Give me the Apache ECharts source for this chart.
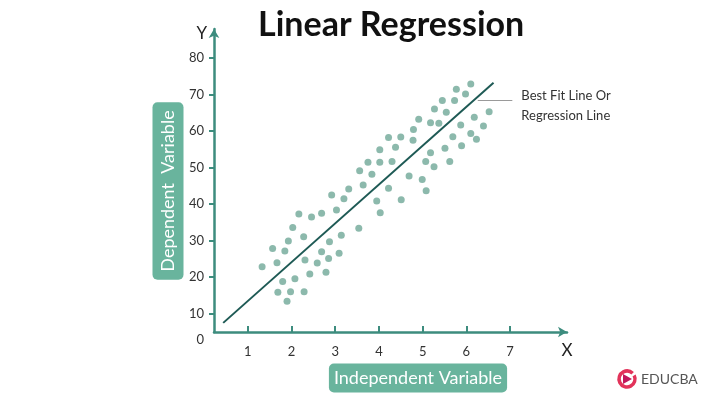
<!DOCTYPE html>
<html>
<head>
<meta charset="utf-8">
<script src="https://cdn.jsdelivr.net/npm/echarts@6/dist/echarts.min.js"></script>
<style>
html, body { margin: 0; background: #fff; }
#main { width: 720px; height: 404px; }
</style>
</head>
<body>
<div id="main"></div>
<script>
// scatter points
var pointX = [1.33, 1.57, 1.67, 1.80, 1.69, 1.90, 1.98, 2.08, 2.29, 1.85,
              1.93, 2.03, 2.17, 2.28, 2.31, 2.42, 2.46, 2.59, 2.69, 2.69,
              2.79, 2.85, 2.87, 2.92, 3.03, 3.09, 3.14, 3.20, 3.31, 3.54,
              4.03, 3.95, 4.51, 3.64, 4.22, 3.56, 3.84, 3.75, 4.02, 4.30,
              4.02, 4.38, 4.22, 4.50, 4.78, 4.79, 4.91, 5.18, 5.37, 5.27,
              5.54, 5.45, 5.73, 5.77, 5.98, 6.10, 4.69, 4.99, 5.08, 5.07,
              5.26, 5.18, 5.51, 5.62, 5.69, 5.89, 5.87, 6.10, 6.23, 6.18,
              6.39, 6.52];
var pointY = [22.9, 27.9, 24.0, 18.8, 15.9, 13.4, 16.0, 19.6, 16.0, 27.2,
              29.9, 33.6, 37.3, 31.1, 24.7, 20.9, 36.5, 23.9, 27.0, 37.5,
              21.4, 25.1, 29.7, 42.5, 38.4, 26.6, 31.5, 41.5, 44.2, 33.4,
              37.7, 40.9, 41.2, 45.3, 44.4, 49.2, 48.2, 51.5, 51.5, 51.7,
              54.9, 55.6, 58.3, 58.4, 57.5, 60.5, 63.3, 62.3, 62.2, 66.1,
              65.2, 68.4, 68.4, 71.5, 70.2, 72.9, 47.7, 46.8, 43.7, 51.7,
              50.3, 54.1, 55.3, 51.7, 58.5, 56.0, 61.7, 59.4, 57.8, 63.8,
              61.4, 65.3];

// best fit line end points
var fitX = [0.44, 6.62];
var fitY = [7.5, 73.3];

// pointer from the line to its caption
var pointerX = [6.26, 7.05];
var pointerY = [68.6, 68.6];

var xTicks = [1, 2, 3, 4, 5, 6, 7];
var yTicks = [10, 20, 30, 40, 50, 60, 70, 80];
var yOrigin = 5; // the axes cross here; the picture prints it as 0

var teal = '#3d8c7e';
var boxColor = '#69b49d';
var labelFont = 'Lato';

var chartDom = document.getElementById('main');
var myChart = echarts.init(chartDom);

var points = pointX.map(function (x, i) { return [x, pointY[i]]; });
var fitLine = fitX.map(function (x, i) { return [x, fitY[i]]; });

var option = {
    backgroundColor: '#fff',
    animation: false,
    title: {
        text: 'Linear Regression',
        left: 253,
        top: 3,
        textStyle: {
            fontFamily: labelFont,
            fontWeight: 'bold',
            fontSize: 34,
            color: '#111'
        }
    },
    grid: {
        left: 214,
        right: 153,
        top: 29,
        bottom: 72
    },
    xAxis: {
        type: 'value',
        min: 0.23,
        max: 8.3,
        name: 'X',
        nameGap: 0,
        nameTextStyle: {
            color: '#222',
            fontSize: 17,
            fontFamily: labelFont,
            align: 'center',
            verticalAlign: 'top',
            padding: [10, 0, 0, 0]
        },
        splitLine: { show: false },
        axisLine: {
            onZero: false,
            symbol: ['none', 'arrow'],
            symbolSize: [8, 9],
            lineStyle: { color: teal, width: 2.5 }
        },
        axisTick: {
            inside: true,
            length: 6,
            customValues: xTicks,
            lineStyle: { color: teal, width: 2 }
        },
        axisLabel: {
            customValues: xTicks,
            margin: 13,
            color: '#333',
            fontSize: 13,
            fontFamily: labelFont
        }
    },
    yAxis: {
        type: 'value',
        min: yOrigin,
        max: 88,
        name: 'Y',
        nameGap: -5,
        nameTextStyle: {
            color: '#222',
            fontSize: 17,
            fontFamily: labelFont,
            align: 'right',
            verticalAlign: 'middle',
            padding: [0, 7, 0, 0]
        },
        splitLine: { show: false },
        axisLine: {
            onZero: false,
            symbol: ['none', 'arrow'],
            symbolSize: [8, 9],
            lineStyle: { color: teal, width: 2.5 }
        },
        axisTick: {
            length: 5,
            customValues: yTicks,
            lineStyle: { color: teal, width: 2 }
        },
        axisLabel: {
            customValues: [yOrigin].concat(yTicks),
            margin: 10,
            color: '#333',
            fontSize: 13,
            fontFamily: labelFont,
            formatter: function (v) {
                return v === yOrigin ? '{o|0}' : String(v);
            },
            rich: {
                o: { padding: [16, 0, 0, 0], fontSize: 13, color: '#333', fontFamily: labelFont }
            }
        }
    },
    series: [{
        type: 'scatter',
        data: points,
        symbolSize: 7,
        itemStyle: { color: '#6fa797' },
        z: 2
    }, {
        type: 'line',
        data: fitLine,
        showSymbol: false,
        lineStyle: { color: '#1e5a55', width: 2 },
        z: 3,
        markLine: {
            silent: true,
            symbol: ['none', 'none'],
            lineStyle: { color: '#9a9a9a', type: 'solid', width: 1.2 },
            label: {
                show: true,
                position: 'end',
                distance: 9,
                formatter: '{s|}\n{t|Best Fit Line Or}\n{t|Regression Line}',
                rich: {
                    s: { height: 12, lineHeight: 12 },
                    t: { color: '#333', fontSize: 13, lineHeight: 20, fontFamily: labelFont }
                }
            },
            data: [[
                { coord: [pointerX[0], pointerY[0]] },
                { coord: [pointerX[1], pointerY[1]] }
            ]]
        }
    }],
    graphic: [{
        type: 'text',
        x: 418,
        y: 378,
        style: {
            text: 'Independent Variable',
            fill: '#fff',
            fontSize: 18,
            fontFamily: labelFont,
            textAlign: 'center',
            textVerticalAlign: 'middle',
            backgroundColor: boxColor,
            padding: [6, 5, 5, 5],
            borderRadius: 5
        }
    }, {
        type: 'text',
        x: 168,
        y: 191,
        rotation: Math.PI / 2,
        style: {
            text: 'Dependent  Variable',
            fill: '#fff',
            fontSize: 18,
            fontFamily: labelFont,
            textAlign: 'center',
            textVerticalAlign: 'middle',
            backgroundColor: boxColor,
            padding: [7, 8, 6, 8],
            borderRadius: 5
        }
    }, {
        type: 'arc',
        shape: { cx: 627, cy: 379, r: 8, startAngle: -Math.PI * 0.15, endAngle: Math.PI * 1.75 },
        style: { stroke: '#e2335a', lineWidth: 3.5, fill: null }
    }, {
        type: 'polygon',
        shape: { points: [[623, 374], [632, 379], [623, 384]] },
        style: { fill: '#c2185b' }
    }, {
        type: 'text',
        x: 641,
        y: 379,
        style: {
            text: 'EDUCBA',
            fill: '#555',
            fontSize: 14,
            fontFamily: labelFont,
            textVerticalAlign: 'middle'
        }
    }]
};

option && myChart.setOption(option);
</script>
</body>
</html>
